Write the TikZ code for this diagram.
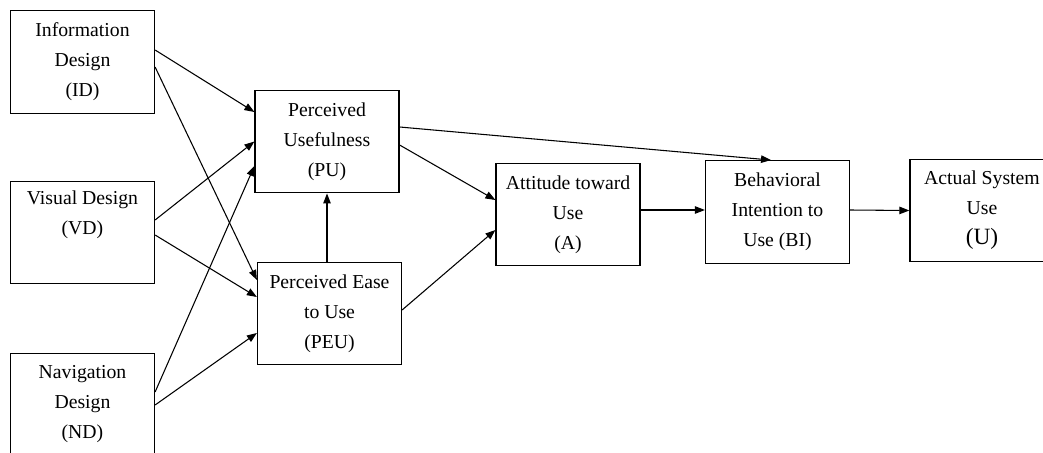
\documentclass[tikz,border=0pt]{standalone}
\usepackage{fontspec}
\setmainfont{Liberation Serif}
\usetikzlibrary{positioning,calc,arrows.meta}

\tikzset{
    box/.style={draw, line width=0.9pt, align=center, inner sep=0pt,
        minimum width=108pt, minimum height=77pt,
        font=\fontsize{14.8}{22.5}\selectfont},
    link/.style={line width=0.8pt, -{Triangle[length=7.5pt,width=5.6pt]}}
}

\begin{document}
\begin{tikzpicture}[x=0.75pt, y=-0.75pt]
    \useasboundingbox (0,0) rectangle (1043,453);
    \clip (0,0) rectangle (1043,453);

    % Design factors
    \node[box] (ID) at (82.5, 62)    {Information\\Design\\(ID)};
    \node[box] (VD) at (82.5, 232.5) {Visual Design\\(VD)\\\strut};
    \node[box] (ND) at (82.5, 404.5) {Navigation\\Design\\(ND)};

    % TAM constructs
    \node[box] (PU)  at (327, 141.5)   {Perceived\\Usefulness\\(PU)};
    \node[box] (PEU) at (329.5, 313.5) {Perceived Ease\\to Use\\(PEU)};
    \node[box] (A)   at (568, 214.5)   {Attitude toward\\Use\\(A)};
    \node[box] (BI)  at (777.5, 212)   {Behavioral\\Intention to\\Use (BI)};
    \node[box] (U)   at (982, 210.5)   {Actual System\\Use\\{\fontsize{17.5}{22.5}\selectfont (U)}};

    % Design factors -> PU / PEU
    \draw[link] ($(ID.east)+(0,-12)$)   -- ($(PU.west)+(0,-29.5)$);
    \draw[link] ($(ID.east)+(0,5)$)     -- ($(PEU.west)+(0,-33.5)$);
    \draw[link] ($(VD.east)+(0,-12.5)$) -- (PU.west);
    \draw[link] ($(VD.east)+(0,2.5)$)   -- ($(PEU.west)+(0,-16.5)$);
    \draw[link] ($(ND.east)+(0,-12.5)$) -- ($(PU.west)+(0,24.5)$);
    \draw[link] ($(ND.east)+(0,0.5)$)   -- ($(PEU.west)+(0,19.5)$);

    % PEU -> PU
    \draw[link] (PU.south |- PEU.north) -- (PU.south);

    % PU / PEU -> A, PU -> BI
    \draw[link] ($(PU.east)+(0,3.5)$)   -- ($(A.west)+(0,-14.5)$);
    \draw[link] ($(PEU.east)+(0,-3.5)$) -- ($(A.west)+(0,15.5)$);
    \draw[link] ($(PU.east)+(0,-14.5)$) -- ($(BI.north)+(-6.5,0)$);

    % A -> BI -> U
    \draw[link] ($(A.east)+(0,-4.5)$)  -- ($(BI.west)+(0,-2)$);
    \draw[link] ($(BI.east)+(0,-2)$)   -- (U.west);
\end{tikzpicture}
\end{document}
